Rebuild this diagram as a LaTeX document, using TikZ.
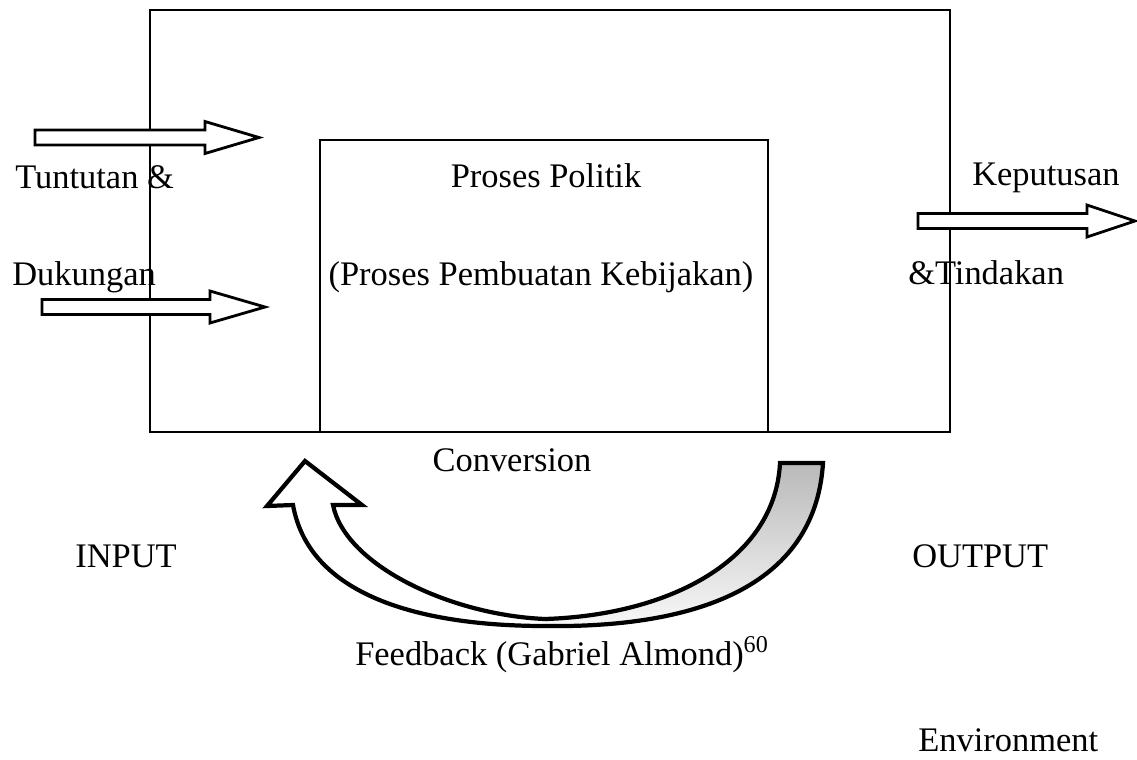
\documentclass[tikz,border=0pt]{standalone}
\usepackage{fontspec}
\setmainfont{Liberation Serif}
\usepackage{tikz}
\tikzset{txt/.style={font=\fontsize{24.5}{29}\selectfont, inner sep=0pt},
  frame/.style={draw, line width=2pt},
  fatarrow/.style={draw, line width=2pt, fill=white, line join=miter},
  bentarrow/.style={draw, line width=3pt, line join=miter}}
\colorlet{underside}{gray!55}

\begin{document}
\begin{tikzpicture}[x=0.025cm, y=-0.025cm]
    \useasboundingbox (0,0) rectangle (1137,759);

    \draw[frame] (150,10) rectangle (950,432);
    \draw[frame] (320,140) rectangle (768,432);

    \foreach \xa/\ya/\xb/\xc in {35/137.5/205/259, 42/307/210/265, 918/221/1087/1135}
      \draw[fatarrow] (\xa,\ya-7.5) -- (\xb,\ya-7.5) -- (\xb,\ya-16) -- (\xc,\ya)
        -- (\xb,\ya+16) -- (\xb,\ya+7.5) -- (\xa,\ya+7.5) -- cycle;

    \shade[top color=underside, bottom color=gray!5] (545,626) .. controls (690,628) and (815,590) .. (823,463)
      -- (780,463) .. controls (775,560) and (670,615) .. (545,619) -- cycle;
    \draw[bentarrow] (293,505) .. controls (310,600) and (430,626) .. (545,626)
      .. controls (690,628) and (815,590) .. (823,463) -- (780,463)
      .. controls (775,560) and (670,615) .. (545,619)
      .. controls (450,615) and (345,565) .. (333,505)
      -- (362,505) -- (305,461) -- (267,506) -- cycle;

    \node[txt, anchor=base west] (demands) at (15,188) {Tuntutan \&};
    \node[txt, anchor=base west] (supports) at (12,285) {Dukungan};
    \node[txt, anchor=base] (process) at (546,187) {Proses Politik};
    \node[txt, anchor=base] (policy) at (541,285) {(Proses Pembuatan Kebijakan)};
    \node[txt, anchor=base west] (decisions) at (972,185) {Keputusan};
    \node[txt, anchor=base west] (actions) at (908,284) {\&Tindakan};
    \node[txt, anchor=base] (conversion) at (512,471) {Conversion};
    \node[txt, anchor=base west] (input) at (75,567) {INPUT};
    \node[txt, anchor=base west] (output) at (912,567) {OUTPUT};
    \node[txt, anchor=base west] (feedback) at (355,665) {Feedback (Gabriel Almond)\textsuperscript{60}};
    \node[txt, anchor=base west] (environment) at (918,751) {Environment};
\end{tikzpicture}
\end{document}
